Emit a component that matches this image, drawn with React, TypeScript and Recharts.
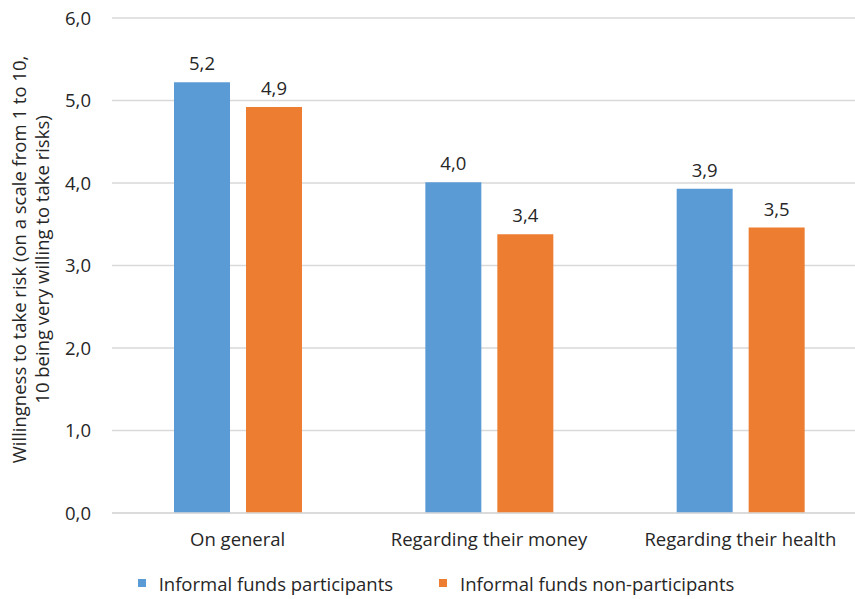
import React from 'react'
import { BarChart, Bar, XAxis, YAxis, CartesianGrid, Legend, LabelList } from 'recharts'

const categories = ['On general', 'Regarding their money', 'Regarding their health']
const participants = [5.22, 4.01, 3.93]
const nonParticipants = [4.92, 3.38, 3.46]
const yTicks = [0, 1, 2, 3, 4, 5, 6]
const seriesNames = ['Informal funds participants', 'Informal funds non-participants']
const yLabelLines = ['Willingness to take risk (on a scale from 1 to 10,', '10 being very willing to take risks)']

const data = categories.map((name, i) => ({
  name,
  participants: participants[i],
  nonParticipants: nonParticipants[i],
}))

const FONT = '"Open Sans", "Noto Sans", sans-serif'
const FS = 18.5
const TEXT = '#262626'
const BLUE = '#5B9BD5'
const ORANGE = '#ED7D31'

const fmt = (v: any) => Number(v).toFixed(1).replace('.', ',')

// two-line rotated y axis title
const YLabel = (props: any) => {
  const vb = props.viewBox || {}
  const cy = vb.y + vb.height / 2 - 6
  return (
    <g>
      {yLabelLines.map((line, i) => (
        <text
          key={i}
          x={0}
          y={0}
          transform={`translate(${18 + i * 23}, ${cy}) rotate(-90)`}
          textAnchor="middle"
          dominantBaseline="central"
          fontSize={FS}
          fontFamily={FONT}
          fill={TEXT}
        >
          {line}
        </text>
      ))}
    </g>
  )
}

const LegendContent = () => (
  <div
    style={{
      display: 'flex',
      justifyContent: 'center',
      alignItems: 'center',
      height: 30,
      fontFamily: FONT,
      fontSize: FS,
      color: TEXT,
      paddingLeft: 17,
    }}
  >
    {seriesNames.map((n, i) => (
      <div key={n} style={{ display: 'flex', alignItems: 'center', marginRight: i === 0 ? 46 : 0 }}>
        <span style={{ display: 'inline-block', width: 8, height: 8, background: i === 0 ? BLUE : ORANGE, marginRight: 13 }} />
        <span>{n}</span>
      </div>
    ))}
  </div>
)

export default function App() {
  return (
    <div style={{ position: 'absolute', left: 0, top: 0, width: 855, height: 599, background: '#fff', overflow: 'hidden' }}>
      <BarChart
        width={866}
        height={599}
        data={data}
        margin={{ top: 18, right: 0, bottom: 1, left: 0 }}
        barSize={56}
        barGap={16}
      >
        <CartesianGrid vertical={false} stroke="#D9D9D9" strokeWidth={1.3} />
        <XAxis
          dataKey="name"
          height={55}
          axisLine={{ stroke: '#D9D9D9', strokeWidth: 1.3 }}
          tickLine={false}
          tickMargin={14}
          tick={{ fontSize: FS, fontFamily: FONT, fill: TEXT }}
        />
        <YAxis
          width={112}
          domain={[0, 6]}
          ticks={yTicks}
          interval={0}
          axisLine={false}
          tickLine={false}
          tickMargin={15}
          tickFormatter={fmt}
          tick={{ fontSize: FS, fontFamily: FONT, fill: TEXT }}
          label={<YLabel />}
        />
        <Legend verticalAlign="bottom" height={30} wrapperStyle={{ width: 855 }} content={<LegendContent />} />
        <Bar dataKey="participants" name={seriesNames[0]} fill={BLUE} isAnimationActive={false}>
          <LabelList dataKey="participants" position="top" offset={12} formatter={fmt} style={{ fontSize: FS, fontFamily: FONT, fill: TEXT }} />
        </Bar>
        <Bar dataKey="nonParticipants" name={seriesNames[1]} fill={ORANGE} isAnimationActive={false}>
          <LabelList dataKey="nonParticipants" position="top" offset={12} formatter={fmt} style={{ fontSize: FS, fontFamily: FONT, fill: TEXT }} />
        </Bar>
      </BarChart>
    </div>
  )
}
